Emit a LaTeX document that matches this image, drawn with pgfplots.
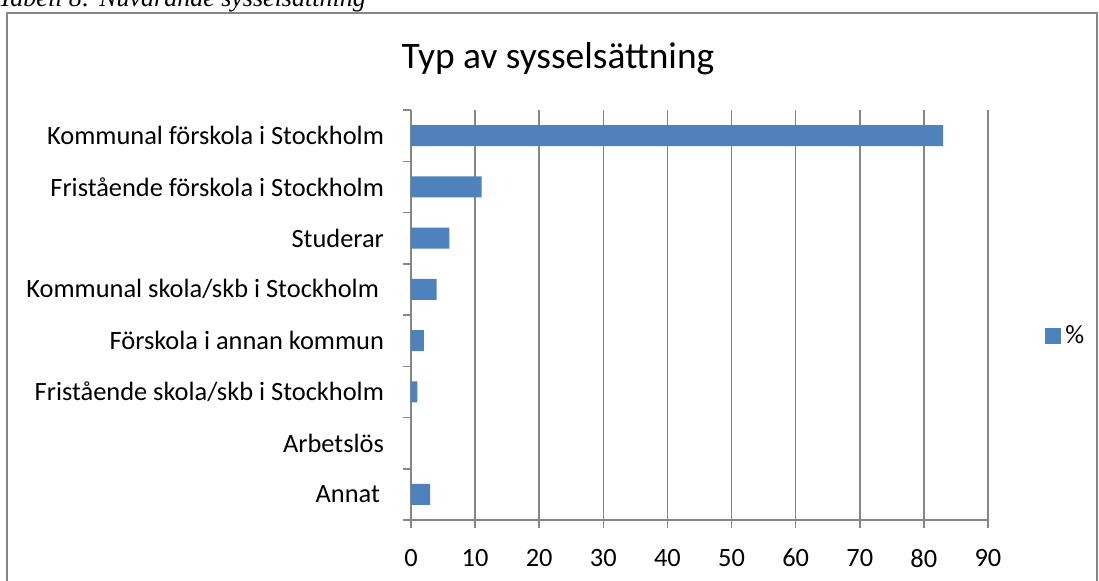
\documentclass[border=0pt]{standalone}
\usepackage{fontspec}
\setmainfont{Carlito}
\newfontfamily\seriffont{Liberation Serif}
\usepackage{pgfplots}
\pgfplotsset{compat=1.18}
\definecolor{barblue}{HTML}{4F81BD}
\definecolor{gridgray}{HTML}{868686}
\begin{document}
\begin{tikzpicture}
\useasboundingbox (0pt,0pt) rectangle (549.5pt,-290pt);
\clip (0pt,0pt) rectangle (549.5pt,-290pt);
\draw[gridgray, line width=1pt] (3.5pt,-6.5pt) rectangle (548.5pt,-300pt);
\node[anchor=base west, inner sep=0pt, font=\seriffont\itshape\fontsize{13}{15}\selectfont] at (-1pt,-3pt) {Tabell 8: Nuvarande sysselsättning};
\node[font=\fontsize{18.7}{22}\selectfont] at (279pt,-29.5pt) {Typ av sysselsättning};
\begin{axis}[
  at={(205.5pt,-260pt)}, anchor=south west,
  scale only axis, width=288.5pt, height=205pt,
  xbar, bar width=10.5pt,
  xmin=0, xmax=90, ymin=0.5, ymax=8.5,
  xtick={0,10,...,90},
  ytick={1,...,8},
  yticklabels={Annat\kern2pt, Arbetslös, Fristående skola/skb i Stockholm, Förskola i annan kommun, Kommunal skola/skb i Stockholm\kern2.5pt, Studerar, Fristående förskola i Stockholm, Kommunal förskola i Stockholm},
  minor ytick={0.5,1.5,...,8.5},
  axis x line*=bottom, axis y line*=left,
  axis line style={gridgray, line width=0.75pt, -},
  xmajorgrids, grid style={gridgray, line width=0.75pt},
  tick align=outside,
  major tick length=4pt, minor tick length=4pt,
  major x tick style={gridgray, line width=0.75pt},
  major y tick style={draw=none},
  minor y tick style={gridgray, line width=0.75pt},
  tick label style={font=\fontsize{13.2}{15}\selectfont, black},
  /pgf/number format/assume math mode=true,
  xticklabel style={yshift=-7pt},
  yticklabel style={xshift=-6pt},
  legend style={at={(1.0988,0.4488)}, anchor=west, draw=none, fill=none, inner sep=0pt, font=\fontsize{13.2}{15}\selectfont},
  legend image code/.code={\fill[barblue] (0pt,-4pt) rectangle (8pt,4pt);},
]
\addplot[fill=barblue, draw=none] coordinates {
  (3,1) (0,2) (1,3) (2,4) (4,5) (6,6) (11,7) (83,8)
};
\addlegendentry{\%}
\end{axis}
\end{tikzpicture}
\end{document}
